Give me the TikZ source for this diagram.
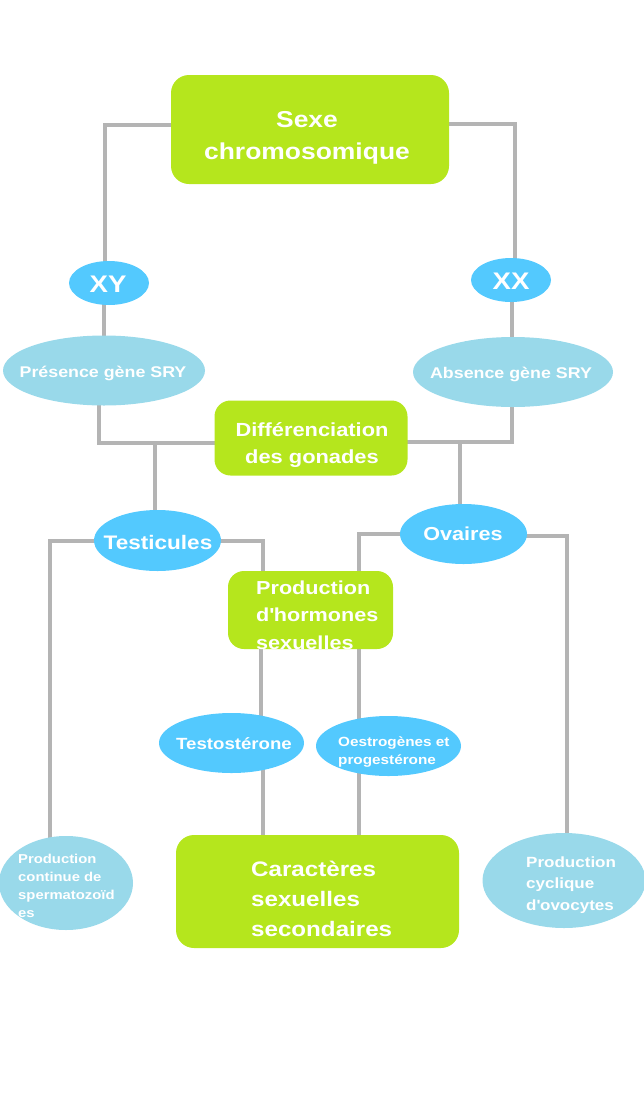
\documentclass[tikz,border=0pt]{standalone}
\usepackage{fontspec}
\setmainfont{Liberation Sans}[FakeStretch=1.15]
\usetikzlibrary{shapes.geometric}
\definecolor{lime}{HTML}{B5E61D}
\definecolor{pale}{HTML}{99D9EA}
\definecolor{sky}{HTML}{53C9FE}
\definecolor{wire}{HTML}{B4B4B4}
\pgfdeclarelayer{bg}
\pgfsetlayers{bg,main}
\newcommand{\fs}[2]{\fontsize{#1}{#2}\selectfont}
\tikzset{
  gbox/.style={fill=lime, draw=none, rounded corners=16pt, inner sep=0pt},
  oval/.style={ellipse, fill=sky, draw=none, inner sep=0pt},
  poval/.style={ellipse, fill=pale, draw=none, inner sep=0pt},
  txt/.style={text=white, inner sep=0pt},
  wirel/.style={draw=wire, line width=4pt},
}
\begin{document}
\begin{tikzpicture}[x=1pt,y=-1pt]
\useasboundingbox (0,0) rectangle (644,1112);
% shapes
\node[gbox, minimum width=278pt, minimum height=109pt, rounded corners=18pt] (sexe) at (310,129.5) {};
\node[oval, minimum width=80pt, minimum height=44pt] (xy) at (109,283) {};
\node[oval, minimum width=80pt, minimum height=44pt] (xx) at (511,280) {};
\node[poval, minimum width=202pt, minimum height=70pt] (pres) at (104,370.5) {};
\node[poval, minimum width=200pt, minimum height=70pt] (abs) at (513,372) {};
\node[gbox, minimum width=193pt, minimum height=75pt] (diff) at (311,438) {};
\node[oval, minimum width=127pt, minimum height=61pt] (test) at (157.5,540.5) {};
\node[oval, minimum width=127pt, minimum height=60pt] (ova) at (463.5,534) {};
\node[gbox, minimum width=165pt, minimum height=78pt] (horm) at (310.5,610) {};
\node[oval, minimum width=145pt, minimum height=60pt] (testo) at (231.5,743) {};
\node[oval, minimum width=145pt, minimum height=60pt] (oest) at (388.5,746) {};
\node[gbox, minimum width=283pt, minimum height=113pt, rounded corners=18pt] (cara) at (317.5,891.5) {};
\node[poval, minimum width=134pt, minimum height=94pt] (cont) at (66,883) {};
\node[poval, minimum width=163pt, minimum height=95pt] (cycl) at (564,880.5) {};
% texts
\node[txt, align=center, font=\bfseries\fs{23}{32}] (tsexe) at (307,137.5) {Sexe\\chromosomique};
\node[txt, font=\bfseries\fs{24}{28}] (txy) at (108,284) {XY};
\node[txt, font=\bfseries\fs{24}{28}] (txx) at (511,281) {XX};
\node[txt, font=\bfseries\fs{15.5}{18}] (tpres) at (103,373.5) {Présence gène SRY};
\node[txt, font=\bfseries\fs{15.5}{18}] (tabs) at (511,374.5) {Absence gène SRY};
\node[txt, align=center, font=\bfseries\fs{19}{27}] (tdiff) at (312,445.5) {Différenciation\\des gonades};
\node[txt, font=\bfseries\fs{19.6}{24}] (ttest) at (158,542) {Testicules};
\node[txt, font=\bfseries\fs{18.8}{24}] (tova) at (463,534) {Ovaires};
\node[txt, align=left, anchor=west, font=\bfseries\fs{18.8}{27.5}] (thorm) at (256,615) {Production\\d\textquotesingle hormones\\sexuelles};
\node[txt, font=\bfseries\fs{16.2}{20}] (ttesto) at (234,744) {Testostérone};
\node[txt, align=left, anchor=west, font=\bfseries\fs{13.3}{18}] (toest) at (338,752) {Oestrogènes et\\progestérone};
\node[txt, align=left, anchor=west, font=\bfseries\fs{12.9}{18}] (tcont) at (18,885.5) {Production\\continue de\\spermatozoïd\\es};
\node[txt, align=left, anchor=west, font=\bfseries\fs{21}{30}] (tcara) at (251,898.5) {Caractères\\sexuelles\\secondaires};
\node[txt, align=left, anchor=west, font=\bfseries\fs{14.8}{21.7}] (tcycl) at (526,885) {Production\\cyclique\\d\textquotesingle ovocytes};
% junctions
\coordinate (jl) at ([shift={(-156,5)}]diff.center);
\coordinate (jr) at ([shift={(149,4)}]diff.center);
% connectors
\begin{pgfonlayer}{bg}
\draw[wirel] ([yshift=4.5pt]sexe.center) -| ([xshift=-4pt]xy.center);
\draw[wirel] ([yshift=5.5pt]sexe.center) -| ([xshift=4pt]xx.center);
\draw[wirel] ([xshift=-5pt]xy.center) -- ([xshift=-5pt]xy.center |- pres.center);
\draw[wirel] ([xshift=1pt]xx.center) -- ([xshift=1pt]xx.center |- abs.center);
\draw[wirel] ([xshift=-5pt]pres.center) |- ([yshift=-5pt]diff.center);
\draw[wirel] ([xshift=-1pt]abs.center) |- ([yshift=-4pt]diff.center);
\draw[wirel] (jl) -- (jl |- test.center);
\draw[wirel] (jr) -- (jr |- ova.center);
\draw[wirel] (test.center) -| ([xshift=-16pt]cont.center);
\draw[wirel] (test.center) -| ([xshift=-48pt]horm.center);
\draw[wirel] (ova.center) -| ([xshift=48pt]horm.center);
\draw[wirel] ([yshift=-2pt]ova.center) -| ([xshift=3pt]cycl.center);
\draw[wirel] ([xshift=-50pt]horm.center) -- ([xshift=-50pt]horm.center |- testo.center);
\draw[wirel] ([xshift=48.5pt]horm.center) -- ([xshift=48.5pt]horm.center |- oest.center);
\draw[wirel] ([xshift=31.5pt]testo.center) -- ([xshift=31.5pt]testo.center |- cara.center);
\draw[wirel] ([xshift=-29.5pt]oest.center) -- ([xshift=-29.5pt]oest.center |- cara.center);
\end{pgfonlayer}
\end{tikzpicture}
\end{document}
